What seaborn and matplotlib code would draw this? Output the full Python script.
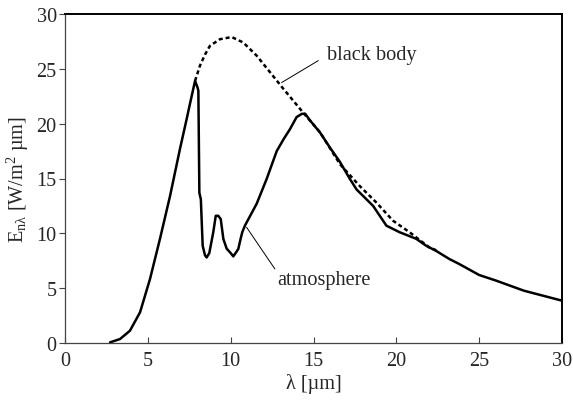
import matplotlib
matplotlib.use("Agg")
import matplotlib.pyplot as plt
import seaborn as sns
import pandas as pd

atm_x = [2.72, 3.32, 3.92, 4.53, 5.13, 5.73, 6.34, 6.94, 7.34, 7.6, 7.85, 8.0, 8.05, 8.11, 8.2,
         8.31, 8.45, 8.55, 8.71, 8.95, 9.1, 9.25, 9.4, 9.56, 9.76, 10.0, 10.16, 10.46, 10.6,
         10.7, 10.86, 11.57, 12.17, 12.78, 13.2, 13.58, 13.98, 14.3, 14.5, 14.79, 15.39, 16.0,
         16.6, 17.2, 17.6, 18.6, 19.4, 20.2, 21.2, 21.8, 22.4, 23.2, 23.8, 25.0, 26.0, 27.7, 30.0]
atm_y = [0.06, 0.36, 1.12, 2.8, 5.83, 9.48, 13.4, 17.7, 20.4, 22.2, 23.9, 23.3, 23.0, 13.7, 13.1,
         8.87, 8.0, 7.8, 8.2, 10.1, 11.6, 11.6, 11.3, 9.48, 8.6, 8.2, 7.9, 8.57, 9.5,
         10.1, 10.7, 12.7, 14.95, 17.5, 18.6, 19.5, 20.6, 20.9, 20.9, 20.3, 19.2, 17.8,
         16.5, 14.95, 14.0, 12.5, 10.7, 10.1, 9.5, 8.87, 8.4, 7.66, 7.2, 6.2, 5.7, 4.77, 3.86]

bb_x = [7.85, 8.15, 8.45, 8.75, 9.35, 10.06, 10.76, 11.57, 12.37, 13.17, 14.38, 15.4, 16.6,
        17.8, 18.8, 19.8, 20.8, 22.0, 22.5]
bb_y = [23.9, 25.3, 26.3, 27.1, 27.7, 27.9, 27.4, 26.2, 24.7, 23.2, 21.0, 19.2, 16.3,
        14.3, 12.8, 11.15, 10.1, 8.7, 8.4]

x_ticks = [0, 5, 10, 15, 20, 25, 30]
y_ticks = [0, 5, 10, 15, 20, 25, 30]

sns.set_style("ticks")
plt.rcParams["font.family"] = ["Liberation Serif", "DejaVu Serif"]
plt.rcParams["mathtext.fontset"] = "custom"
plt.rcParams["mathtext.rm"] = "Liberation Serif"
plt.rcParams["mathtext.it"] = "Liberation Serif:italic"

FS = 14.6

fig = plt.figure(figsize=(5.73, 4.06), dpi=100)
ax = fig.add_axes([65/573, 62/406, (562-65)/573, (344-15)/406])

atm = pd.DataFrame({"x": atm_x, "y": atm_y})
bb = pd.DataFrame({"x": bb_x, "y": bb_y})

sns.lineplot(data=bb, x="x", y="y", ax=ax, color="black", lw=1.8,
             linestyle=(0, (1.6, 1.2)))
sns.lineplot(data=atm, x="x", y="y", ax=ax, color="black", lw=1.8)

ax.set_xlim(0, 30)
ax.set_ylim(0, 30)
ax.set_xticks(x_ticks)
ax.set_yticks(y_ticks)
ax.tick_params(axis="x", direction="in", length=4, labelsize=FS, pad=6, color="#444")
ax.tick_params(axis="y", direction="out", length=4, labelsize=FS, pad=2, color="#444")

for s in ["left", "bottom"]:
    ax.spines[s].set_color("#444")
    ax.spines[s].set_linewidth(0.9)
for s in ["top", "right"]:
    ax.spines[s].set_visible(True)
    ax.spines[s].set_color("black")
    ax.spines[s].set_linewidth(1.4)

ax.set_xlabel("λ [µm]", fontsize=FS, labelpad=2)
ax.set_ylabel(r"$\mathregular{E_{n\lambda}}$ [W/m$^\mathregular{2}$ µm]", fontsize=FS, labelpad=4)

ax.plot([13.08, 15.29], [23.75, 25.75], color="black", lw=0.7)
ax.text(15.8, 26.3, "black body", fontsize=FS, ha="left", va="center")
ax.plot([10.96, 12.67], [10.55, 6.75], color="black", lw=0.7)
ax.text(12.8, 5.83, "atmosphere", fontsize=FS, ha="left", va="center")

fig.savefig("out.png", dpi=100)
